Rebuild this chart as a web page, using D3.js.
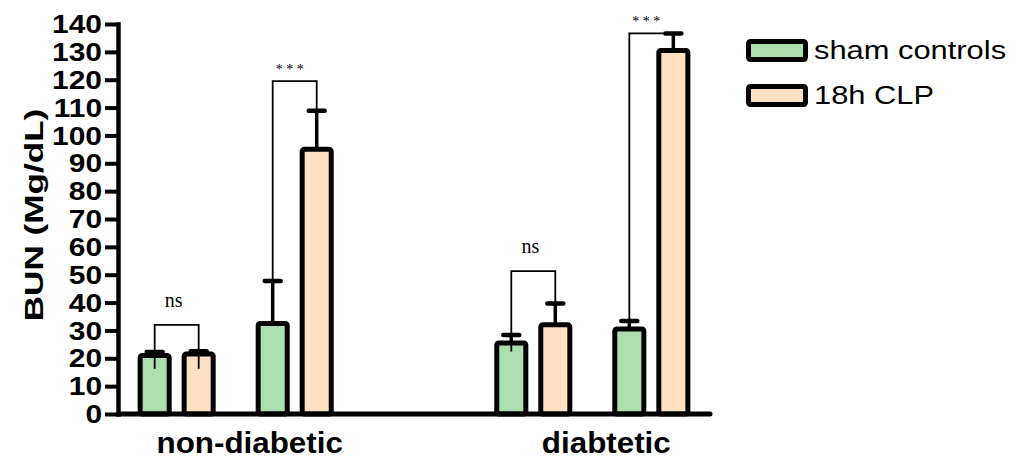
<!DOCTYPE html>
<html>
<head>
<meta charset="utf-8">
<script src="https://cdn.jsdelivr.net/npm/d3@7/dist/d3.min.js"></script>
<style>
  html, body { margin: 0; padding: 0; background: #fff; }
  svg { display: block; }
</style>
</head>
<body>
<svg id="chart" width="1018" height="459"></svg>
<script>
// ---- data -------------------------------------------------------------
const groups = ["non-diabetic", "diabtetic"];
const series = ["sham controls", "18h CLP"];
// four bar pairs, two per group (group = floor(slot / 2))
const shamMean = [21, 32.5, 25.5, 30.5];
const shamSEM  = [1.3, 15.2, 2.9, 2.9];
const clpMean  = [21.5, 95, 32, 130.5];
const clpSEM   = [1.0, 13.9, 7.7, 6.1];
const yTicks = [0, 10, 20, 30, 40, 50, 60, 70, 80, 90, 100, 110, 120, 130, 140];
const yTitle = "BUN (Mg/dL)";
// significance brackets: slot, label, bracket height, left / right leg ends (mg/dL)
const brackets = [
  { slot: 0, label: "ns",    top: 32,    left: 16.2, right: 16.2 },
  { slot: 1, label: "* * *", top: 119.5, left: 47.7, right: 104.3 },
  { slot: 2, label: "ns",    top: 51.3,  left: 22.4, right: 35.3 },
  { slot: 3, label: "* * *", top: 136.6, left: 33.4, right: 136.6 }
];

// ---- layout -----------------------------------------------------------
const colors = { "sham controls": "#addead", "18h CLP": "#ffe0c2" };
const svg = d3.select("#chart");
const plotLeft = 118, plotRight = 710, plotBottom = 414, plotTop = 24;

const y = d3.scaleLinear().domain([0, 140]).range([plotBottom, plotTop]);
const xGroup = d3.scaleBand().domain(groups).range([plotLeft, plotRight])
  .paddingInner(0.44).paddingOuter(0.05);
const xPair = d3.scaleBand().domain([0, 1]).range([0, xGroup.bandwidth()])
  .paddingInner(0.308).paddingOuter(0);
const xSeries = d3.scaleBand().domain(series).range([0, xPair.bandwidth()])
  .paddingInner(0.34).paddingOuter(0.098);

const slotX = s => xGroup(groups[Math.floor(s / 2)]) + xPair(s % 2);
const barCenter = (s, name) => slotX(s) + xSeries(name) + xSeries.bandwidth() / 2;

// stretch text horizontally by a factor (glyph widths of the original font)
function stretch(sel, k) {
  sel.each(function () {
    const w = this.getComputedTextLength();
    d3.select(this).attr("textLength", w * k).attr("lengthAdjust", "spacingAndGlyphs");
  });
}

// ---- bars -------------------------------------------------------------
const bars = [];
shamMean.forEach((m, i) => bars.push({ slot: i, name: series[0], mean: m, sem: shamSEM[i] }));
clpMean.forEach((m, i) => bars.push({ slot: i, name: series[1], mean: m, sem: clpSEM[i] }));

// error bars (drawn under the bar outline)
const eb = svg.append("g").attr("stroke", "#000").attr("stroke-linecap", "round");
eb.selectAll("line.stem").data(bars).join("line")
  .attr("class", "stem")
  .attr("x1", d => barCenter(d.slot, d.name)).attr("x2", d => barCenter(d.slot, d.name))
  .attr("y1", d => y(d.mean)).attr("y2", d => y(d.mean + d.sem))
  .attr("stroke-width", 3.5);
eb.selectAll("line.cap").data(bars).join("line")
  .attr("class", "cap")
  .attr("x1", d => barCenter(d.slot, d.name) - 8).attr("x2", d => barCenter(d.slot, d.name) + 8)
  .attr("y1", d => y(d.mean + d.sem)).attr("y2", d => y(d.mean + d.sem))
  .attr("stroke-width", 4.5);

svg.append("g").selectAll("rect").data(bars).join("rect")
  .attr("x", d => slotX(d.slot) + xSeries(d.name))
  .attr("width", xSeries.bandwidth())
  .attr("y", d => y(d.mean))
  .attr("height", d => y(0) - y(d.mean))
  .attr("rx", 2)
  .attr("fill", d => colors[d.name])
  .attr("stroke", "#000")
  .attr("stroke-width", 5);

// ---- significance brackets ------------------------------------------
const bg = svg.append("g");
brackets.forEach(b => {
  const xl = barCenter(b.slot, series[0]);
  const xr = barCenter(b.slot, series[1]);
  bg.append("path")
    .attr("d", `M${xl},${y(b.left)}V${y(b.top)}H${xr}V${y(b.right)}`)
    .attr("fill", "none").attr("stroke", "#000").attr("stroke-width", 1.8);
  const isStars = b.label.includes("*");
  bg.append("text")
    .attr("x", (xl + xr) / 2 - (isStars ? 5 : 3))
    .attr("y", y(b.top) - (isStars ? 7.5 : 18))
    .attr("text-anchor", "middle")
    .attr("font-family", "'Liberation Serif', 'Times New Roman', serif")
    .attr("font-size", isStars ? 14 : 20)
    .attr("fill", "#000")
    .text(b.label);
});

// ---- axes -------------------------------------------------------------
const yAxis = svg.append("g")
  .attr("transform", `translate(${plotLeft},0)`)
  .call(d3.axisLeft(y).tickValues(yTicks).tickSize(13).tickSizeOuter(0).tickPadding(3));
yAxis.select(".domain").attr("stroke", "#000").attr("stroke-width", 4.5)
  .attr("stroke-linecap", "square");
yAxis.selectAll(".tick line").attr("stroke", "#000").attr("stroke-width", 4);
yAxis.selectAll(".tick text")
  .attr("font-family", "'Liberation Sans', Arial, sans-serif")
  .attr("font-weight", "bold").attr("font-size", 26).attr("fill", "#000")
  .attr("dy", "0.33em")
  .call(stretch, 1.15);

svg.append("line")
  .attr("x1", plotLeft).attr("x2", plotRight)
  .attr("y1", y(0)).attr("y2", y(0))
  .attr("stroke", "#000").attr("stroke-width", 5).attr("stroke-linecap", "round");

svg.append("g").selectAll("text").data(groups).join("text")
  .attr("x", d => xGroup(d) + xGroup.bandwidth() / 2 + 14)
  .attr("y", 453)
  .attr("text-anchor", "middle")
  .attr("font-family", "'Liberation Sans', Arial, sans-serif")
  .attr("font-weight", "bold").attr("font-size", 30).attr("fill", "#000")
  .text(d => d)
  .call(stretch, 1.045);

svg.append("text")
  .attr("transform", `translate(43,${(plotTop + plotBottom) / 2 - 4}) rotate(-90)`)
  .attr("text-anchor", "middle")
  .attr("font-family", "'Liberation Sans', Arial, sans-serif")
  .attr("font-weight", "bold").attr("font-size", 26).attr("fill", "#000")
  .text(yTitle)
  .call(stretch, 1.35);

// ---- legend -----------------------------------------------------------
const legend = svg.append("g").attr("transform", "translate(748.5,41.5)");
const li = legend.selectAll("g").data(series).join("g")
  .attr("transform", (d, i) => `translate(0,${i * 45})`);
li.append("rect")
  .attr("width", 57).attr("height", 18).attr("rx", 2)
  .attr("fill", d => colors[d]).attr("stroke", "#000").attr("stroke-width", 5);
li.append("text")
  .attr("x", 65.5).attr("y", 17.5)
  .attr("font-family", "'Liberation Sans', Arial, sans-serif")
  .attr("font-size", 25.5).attr("fill", "#000")
  .text(d => d)
  .call(stretch, 1.21);
</script>
</body>
</html>
